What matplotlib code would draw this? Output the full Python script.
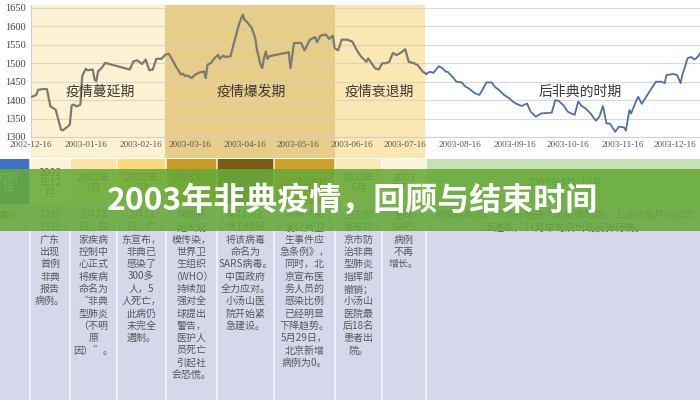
import matplotlib
matplotlib.use('Agg')
import matplotlib.pyplot as plt
import pandas as pd
from matplotlib.patches import Rectangle

plt.rcParams['font.family'] = ['Noto Sans CJK SC', 'DejaVu Sans']

# 上证综指
dates = ['2002-12-16', '2002-12-17', '2002-12-19', '2002-12-20', '2002-12-23', '2002-12-25',
         '2002-12-27', '2002-12-30', '2002-12-31', '2003-01-02', '2003-01-03', '2003-01-06',
         '2003-01-07', '2003-01-08', '2003-01-09', '2003-01-11', '2003-01-13', '2003-01-14',
         '2003-01-16', '2003-01-17', '2003-01-20', '2003-01-21', '2003-01-22', '2003-01-23',
         '2003-01-25', '2003-01-27', '2003-02-10', '2003-02-12', '2003-02-14', '2003-02-15',
         '2003-02-17', '2003-02-19', '2003-02-21', '2003-02-23', '2003-02-25', '2003-02-28',
         '2003-03-02', '2003-03-04', '2003-03-06', '2003-03-08', '2003-03-11', '2003-03-12',
         '2003-03-13', '2003-03-15', '2003-03-17', '2003-03-19', '2003-03-21', '2003-03-24',
         '2003-03-25', '2003-03-26', '2003-03-28', '2003-03-30', '2003-04-01', '2003-04-02',
         '2003-04-04', '2003-04-05', '2003-04-08', '2003-04-10', '2003-04-12', '2003-04-13',
         '2003-04-15', '2003-04-16', '2003-04-17', '2003-04-20', '2003-04-22', '2003-04-23',
         '2003-04-25', '2003-04-26', '2003-04-27', '2003-04-28', '2003-04-29', '2003-04-30',
         '2003-05-11', '2003-05-12', '2003-05-14', '2003-05-18', '2003-05-20', '2003-05-23',
         '2003-05-26', '2003-05-27', '2003-05-29', '2003-06-01', '2003-06-03', '2003-06-05',
         '2003-06-06', '2003-06-08', '2003-06-10', '2003-06-13', '2003-06-16', '2003-06-19',
         '2003-06-21', '2003-06-24', '2003-06-25', '2003-06-29', '2003-07-01', '2003-07-03',
         '2003-07-05', '2003-07-07', '2003-07-09', '2003-07-11', '2003-07-13', '2003-07-15',
         '2003-07-16', '2003-07-18', '2003-07-21', '2003-07-23', '2003-07-26', '2003-07-28',
         '2003-07-30', '2003-08-01', '2003-08-04', '2003-08-06', '2003-08-08', '2003-08-09',
         '2003-08-12', '2003-08-14', '2003-08-17', '2003-08-19', '2003-08-21', '2003-08-24',
         '2003-08-27', '2003-08-29', '2003-08-31', '2003-09-03', '2003-09-05', '2003-09-07',
         '2003-09-10', '2003-09-13', '2003-09-15', '2003-09-17', '2003-09-20', '2003-09-23',
         '2003-09-25', '2003-09-28', '2003-10-01', '2003-10-07', '2003-10-09', '2003-10-11',
         '2003-10-14', '2003-10-16', '2003-10-18', '2003-10-20', '2003-10-22', '2003-10-24',
         '2003-10-26', '2003-10-29', '2003-11-01', '2003-11-03', '2003-11-05', '2003-11-07',
         '2003-11-09', '2003-11-12', '2003-11-14', '2003-11-17', '2003-11-18', '2003-11-20',
         '2003-11-21', '2003-11-24', '2003-11-25', '2003-11-27', '2003-11-29', '2003-12-02',
         '2003-12-05', '2003-12-08', '2003-12-10', '2003-12-11', '2003-12-15', '2003-12-17',
         '2003-12-19', '2003-12-20', '2003-12-23', '2003-12-25', '2003-12-27', '2003-12-29',
         '2003-12-30']
index_vals = [1409, 1410, 1414, 1428, 1430, 1430, 1383, 1374, 1356, 1320, 1318, 1329,
              1334, 1385, 1388, 1383, 1388, 1465, 1485, 1481, 1483, 1456, 1451, 1478,
              1487, 1501, 1483, 1505, 1508, 1505, 1498, 1510, 1481, 1483, 1512, 1512,
              1523, 1526, 1510, 1492, 1469, 1472, 1466, 1466, 1460, 1469, 1474, 1478,
              1460, 1496, 1501, 1514, 1523, 1512, 1521, 1517, 1519, 1555, 1591, 1609,
              1632, 1617, 1614, 1596, 1569, 1537, 1496, 1487, 1514, 1532, 1512, 1519,
              1530, 1487, 1555, 1555, 1535, 1564, 1571, 1557, 1575, 1578, 1566, 1575,
              1541, 1535, 1564, 1564, 1559, 1532, 1518, 1504, 1513, 1486, 1483, 1500,
              1500, 1504, 1528, 1522, 1527, 1534, 1538, 1504, 1500, 1495, 1477, 1471,
              1477, 1474, 1492, 1487, 1477, 1477, 1462, 1450, 1448, 1437, 1432, 1420,
              1414, 1430, 1448, 1448, 1435, 1428, 1414, 1405, 1396, 1390, 1384, 1391,
              1369, 1355, 1364, 1366, 1400, 1398, 1384, 1369, 1364, 1360, 1396, 1384,
              1378, 1364, 1344, 1355, 1384, 1337, 1336, 1314, 1328, 1326, 1317, 1373,
              1364, 1400, 1409, 1390, 1405, 1428, 1450, 1450, 1446, 1468, 1471, 1468,
              1446, 1468, 1514, 1517, 1510, 1519, 1527]

tick_dates = ['2002-12-16', '2003-01-16', '2003-02-16', '2003-03-16', '2003-04-16',
              '2003-05-16', '2003-06-16', '2003-07-16', '2003-08-16', '2003-09-16',
              '2003-10-16', '2003-11-16', '2003-12-16']

phase_names = ['疫情蔓延期', '疫情爆发期', '疫情衰退期', '后非典的时期']
phase_starts = ['2002-12-16', '2003-03-02', '2003-06-06', '2003-07-27']
phase_ends = ['2003-03-02', '2003-06-06', '2003-07-27', '2003-12-30']
phase_label_at = ['2003-01-24', '2003-04-20', '2003-07-01', '2003-10-23']
phase_colors = ['#fcf1d2', '#e8cd88', '#fbe7b3', 'white']

# table below the chart
col_heads = ['时间\n轴', '2002\n年12\n月', '2003年\n1月', '2003年\n2月', '2003年3\n月',
             '2003年4\n月', '2003年5月', '2003年\n6月', '2003\n年7月', '2003年8月-12月']
col_events = [
    '事件',
    '12月\n15日\n广东\n出现\n首例\n非典\n报告\n病例。',
    '1月22\n日，国\n家疾病\n控制中\n心正式\n将疾病\n命名为\n“非典\n型肺炎\n（不明\n原\n因）”。',
    '2月11\n日，广\n东宣布，\n非典已\n感染了\n300多\n人，5\n人死亡，\n此病仍\n未完全\n遏制。',
    '疾病开\n始大规\n模传染，\n世界卫\n生组织\n（WHO）\n持续加\n强对全\n球提出\n警告，\n医护人\n员死亡\n引起社\n会恐慌。',
    '4月15日\n世卫组织\n将该病毒\n命名为\nSARS病毒。\n中国政府\n全力应对。\n小汤山医\n院开始紧\n急建设。',
    '颁布《突\n发公共卫\n生事件应\n急条例》，\n同时，北\n京宣布医\n务人员的\n感染比例\n已经明显\n下降趋势。\n5月29日，\n北京新增\n病例为0。',
    '卫生部\n宣布北\n京市防\n治非典\n型肺炎\n指挥部\n撤销；\n小汤山\n医院最\n后18名\n患者出\n院。',
    '全球\nSARS\n病例\n不再\n增长。',
    '疫情结束后，市场开始进入后疫情时期，上证综指月线出现\n五连跌，11月中旬后出现反弹行情。',
]
col_colors = ['#3d72c6', '#fdf3da', '#fbe6a6', '#fcd97c', '#c99b22', '#7c5c12',
              '#d09f28', '#fce8b6', '#fef3dd', '#c5e2b5']

title = '2003年非典疫情，回顾与结束时间'

x = pd.to_datetime(dates)
y = pd.Series(index_vals, index=x)

fig = plt.figure(figsize=(7, 4), dpi=100)

# ---- chart ----
ax = fig.add_axes([31 / 700, 1 - 137 / 400, 669 / 700, 132 / 400])
for s, e, c in zip(phase_starts, phase_ends, phase_colors):
    ax.axvspan(pd.Timestamp(s), pd.Timestamp(e), ymin=-0.16, ymax=1,
               color=c, lw=0, clip_on=False, zorder=0)
for v in range(1300, 1651, 50):
    ax.axhline(v, color='#d5d0c4', lw=0.8, alpha=0.8, zorder=1)

early = y[y.index <= pd.Timestamp('2003-07-28')]
late = y[y.index >= pd.Timestamp('2003-07-28')]
ax.plot(early.index, early.values, color='#7b7b73', lw=1.6, zorder=3)
ax.plot(late.index, late.values, color='#4e70a6', lw=1.3, zorder=3)

for name, d in zip(phase_names, phase_label_at):
    ax.text(pd.Timestamp(d), 1422, name, ha='center', va='center',
            fontsize=10, color='#3a3a3a', zorder=4)

ax.set_xlim(pd.Timestamp('2002-12-16'), pd.Timestamp('2003-12-30'))
ax.set_ylim(1300, 1658)
ax.set_yticks(range(1300, 1651, 50))
ax.set_xticks(pd.to_datetime(tick_dates))
ax.set_xticklabels(tick_dates, family=['Liberation Serif'], fontsize=6.6, color='#555555')
for lab in ax.get_yticklabels():
    lab.set_family(['Liberation Serif'])
ax.tick_params(axis='y', labelsize=7.5, labelcolor='#444444', length=0, pad=4)
ax.tick_params(axis='x', length=0, pad=3)
ax.set_facecolor('none')
for side in ['top', 'right']:
    ax.spines[side].set_visible(False)
for side in ['left', 'bottom']:
    ax.spines[side].set_color('#cfcfcf')
    ax.spines[side].set_linewidth(0.8)

# ---- table + banner (pixel layout) ----
tab = fig.add_axes([0, 0, 1, 1], zorder=2)
tab.set_xlim(0, 700)
tab.set_ylim(400, 0)
tab.axis('off')

edges = [0, 30, 70, 117, 166, 217, 274, 335, 382, 426, 700]
head_top, head_bot = 159, 205
for i in range(len(col_heads)):
    x0, x1 = edges[i], edges[i + 1]
    tab.add_patch(Rectangle((x0, head_top), x1 - x0, head_bot - head_top,
                            color=col_colors[i], lw=0))
    tab.add_patch(Rectangle((x0, head_bot), x1 - x0, 400 - head_bot,
                            color='#d4d8ea', lw=0))
    cx = (x0 + x1) / 2
    if i == 0:
        tab.text(8, 183, col_heads[i], ha='center', va='center', fontsize=7.5,
                 color='white', linespacing=1.1)
        tab.text(8, 216, col_events[i], ha='center', va='center', fontsize=7.5,
                 color='#666666')
    else:
        if i == len(col_heads) - 1:
            cx = 565
        tab.text(cx, 183, col_heads[i], ha='center', va='center', fontsize=7.5,
                 color='#555555', linespacing=1.05)
        tab.text(cx, 210, col_events[i], ha='center', va='top', fontsize=7.2,
                 color='#595959', linespacing=1.29, multialignment='center')
for xe in edges[1:-1]:
    tab.plot([xe, xe], [head_top, 400], color='white', lw=1.2, alpha=0.8)
tab.plot([0, 700], [head_bot, head_bot], color='white', lw=1.2, alpha=0.8)

tab.add_patch(Rectangle((0, 169), 700, 62, color='#66aa38', alpha=0.88, lw=0, zorder=5))
tab.text(352, 201, title, ha='center', va='center', fontsize=23, fontweight='bold',
         color='white', zorder=6)

fig.savefig('out.png', dpi=100, facecolor='white')
